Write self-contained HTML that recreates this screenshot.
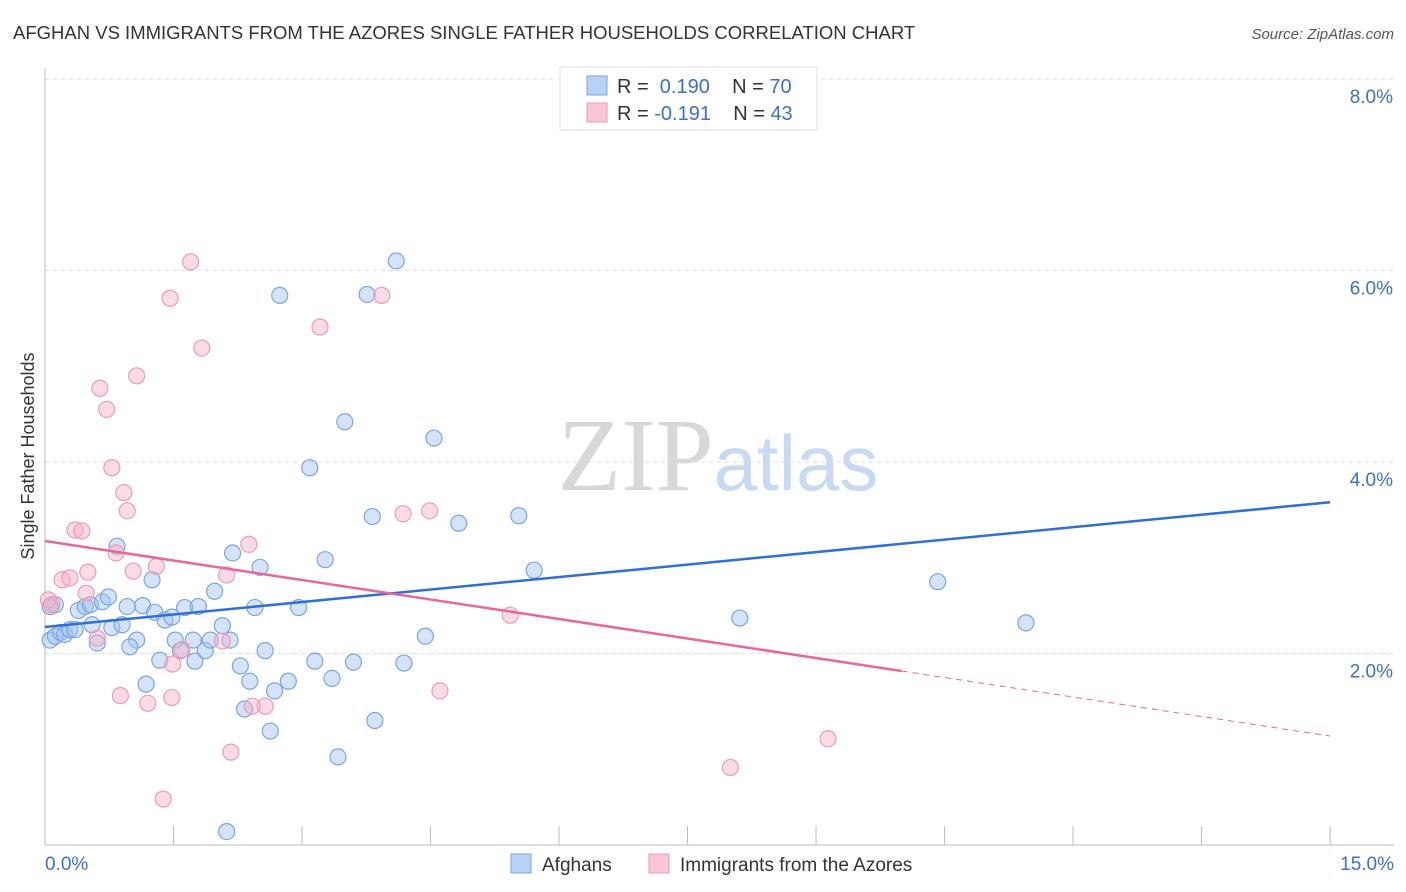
<!DOCTYPE html>
<html><head><meta charset="utf-8"><style>
body{margin:0;background:#fff;font-family:"Liberation Sans",sans-serif}
svg{display:block}
</style></head><body>
<svg id="chart" width="1406" height="892" xmlns="http://www.w3.org/2000/svg" font-family="Liberation Sans, sans-serif">
<text x="13" y="39" font-size="18.5" fill="#333">AFGHAN VS IMMIGRANTS FROM THE AZORES SINGLE FATHER HOUSEHOLDS CORRELATION CHART</text>
<text x="1394" y="39" font-size="15" fill="#555" font-style="italic" text-anchor="end">Source: ZipAtlas.com</text>
<text x="718" y="490" font-size="104" text-anchor="middle"><tspan fill="#d8d8d8" font-family="Liberation Serif, serif">ZIP</tspan><tspan fill="#c8daf2" font-size="78">atlas</tspan></text>
<g id="grid"></g>
<g id="axes"></g>
<g id="marks"></g>
<text transform="translate(34,456) rotate(-90)" font-size="18" fill="#333" text-anchor="middle">Single Father Households</text>
<g>
<rect x="560" y="67" width="257" height="63" fill="#fff" stroke="#ddd"/>
<rect x="587" y="76" width="20" height="19" fill="#b9d1f5" stroke="#7aa6e0"/>
<text x="617" y="93" font-size="20" fill="#333">R = <tspan fill="#3d6fcc">&#160;0.190</tspan>&#160;&#160;&#160;&#160;N = <tspan fill="#3d6fcc">70</tspan></text>
<rect x="587" y="103" width="20" height="19" fill="#f8c6d6" stroke="#ee9ab8"/>
<text x="617" y="120" font-size="20" fill="#333">R = <tspan fill="#3d6fcc">-0.191</tspan>&#160;&#160;&#160;&#160;N = <tspan fill="#3d6fcc">43</tspan></text>
</g>
<g>
<rect x="511" y="854" width="20" height="19" fill="#b9d1f5" stroke="#7aa6e0"/>
<text x="542" y="871" font-size="19" fill="#333">Afghans</text>
<rect x="649" y="854" width="20" height="19" fill="#f8c6d6" stroke="#ee9ab8"/>
<text x="680" y="871" font-size="19" fill="#333">Immigrants from the Azores</text>
</g>
</svg>
<script>
const yTicks=[2,4,6,8];
const yTickLabels=["2.0%","4.0%","6.0%","8.0%"];
const xTicks=[0,1.5,3,4.5,6,7.5,9,10.5,12,13.5,15];
const afghanX=[.06,.12,.18,.23,.29,.35,.12,.39,.47,.53,.55,.61,.67,.74,.78,.84,.90,.96,1.07,.99,1.14,1.25,1.28,1.18,1.34,1.40,1.48,1.52,1.58,1.63,1.73,1.75,1.79,1.87,1.93,1.98,2.07,2.16,2.19,2.28,2.33,2.39,2.45,2.51,2.57,2.63,2.68,2.74,2.84,2.96,3.09,3.15,3.27,3.35,3.42,3.50,3.60,3.76,3.82,3.85,4.10,4.19,4.44,4.54,4.83,5.53,5.71,2.12,8.11,10.42,11.45,.06];
const afghanY=[2.14,2.18,2.22,2.20,2.25,2.25,2.51,2.45,2.49,2.51,2.30,2.11,2.54,2.59,2.27,3.12,2.30,2.49,2.14,2.07,2.50,2.77,2.43,1.68,1.93,2.35,2.38,2.14,2.03,2.48,2.14,1.92,2.49,2.03,2.14,2.65,2.29,2.14,3.05,1.87,1.42,1.71,2.48,2.90,2.03,1.19,1.61,5.74,1.71,2.48,3.94,1.92,2.98,1.74,.92,4.42,1.91,5.75,3.43,1.30,6.10,1.90,2.18,4.25,3.36,3.44,2.87,.14,2.37,2.75,2.32,2.49];
const azoresX=[.04,.08,.20,.29,.35,.43,.50,.48,.61,.64,.72,.78,.83,.92,.96,.88,1.03,1.07,1.20,1.30,1.38,1.46,1.48,1.49,1.60,1.70,1.83,2.07,2.12,2.17,2.38,2.42,2.57,3.21,3.93,4.18,4.49,4.61,5.43,8.00,9.14];
const azoresY=[2.56,2.51,2.77,2.79,3.29,3.28,2.85,2.63,2.16,4.77,4.55,3.94,3.05,3.68,3.49,1.56,2.86,4.90,1.48,2.91,.48,5.71,1.54,1.89,2.04,6.09,5.19,2.13,2.82,.97,3.14,1.45,1.45,5.41,5.74,3.46,3.49,1.61,2.40,.81,1.11];
const afghanTrend=[[0,2.277],[15,3.58]];
const azoresTrend=[[0,3.175],[10,1.817],[15,1.138]];
const NS="http://www.w3.org/2000/svg";
const sx=v=>45+v*85.67, sy=v=>845-v*95.75;
function mk(tag,attrs,parent){const e=document.createElementNS(NS,tag);for(const k in attrs)e.setAttribute(k,attrs[k]);document.getElementById(parent).appendChild(e);return e;}
yTicks.forEach((t,i)=>{
 const g=mk('line',{x1:45,x2:1394,y1:sy(t),y2:sy(t),stroke:'#ddd','stroke-dasharray':'4,4'},'grid');
 
 
 const l=mk('text',{x:1393,y:sy(t)+24,'font-size':19,fill:'#3d6fcc','text-anchor':'end'},'axes');
 l.textContent=yTickLabels[i];
 
 
});
const ax=mk('line',{x1:45,x2:45,y1:68,y2:845,stroke:'#bbb'},'axes');


const bx=mk('line',{x1:45,x2:1394,y1:845,y2:845,stroke:'#bbb'},'axes');


xTicks.forEach(t=>{
 const k=mk('line',{x1:sx(t),x2:sx(t),y1:826,y2:845,stroke:'#bbb'},'axes');
 
 
});
const x0=mk('text',{x:45,y:870,'font-size':19,fill:'#3d6fcc'},'axes');x0.textContent='0.0%';


const x1=mk('text',{x:1394,y:870,'font-size':19,fill:'#3d6fcc','text-anchor':'end'},'axes');x1.textContent='15.0%';


afghanX.forEach((v,i)=>{
 const c=mk('circle',{cx:sx(v),cy:sy(afghanY[i]),r:8,fill:'rgba(160,192,240,0.45)',stroke:'#7aa6e0','stroke-width':1.2},'marks');
 
 
});
azoresX.forEach((v,i)=>{
 const c=mk('circle',{cx:sx(v),cy:sy(azoresY[i]),r:8,fill:'rgba(246,176,200,0.45)',stroke:'#ee9ab8','stroke-width':1.2},'marks');
 
 
});
const bl=mk('line',{x1:sx(afghanTrend[0][0]),y1:sy(afghanTrend[0][1]),x2:sx(afghanTrend[1][0]),y2:sy(afghanTrend[1][1]),stroke:'#2f6fd6','stroke-width':2.5},'marks');


const pl=mk('line',{x1:sx(azoresTrend[0][0]),y1:sy(azoresTrend[0][1]),x2:sx(azoresTrend[1][0]),y2:sy(azoresTrend[1][1]),stroke:'#e8679a','stroke-width':2.5},'marks');


const pd=mk('line',{x1:sx(azoresTrend[1][0]),y1:sy(azoresTrend[1][1]),x2:sx(azoresTrend[2][0]),y2:sy(azoresTrend[2][1]),stroke:'#e8679a','stroke-width':1,'stroke-dasharray':'6,5'},'marks');


</script>
</body></html>
